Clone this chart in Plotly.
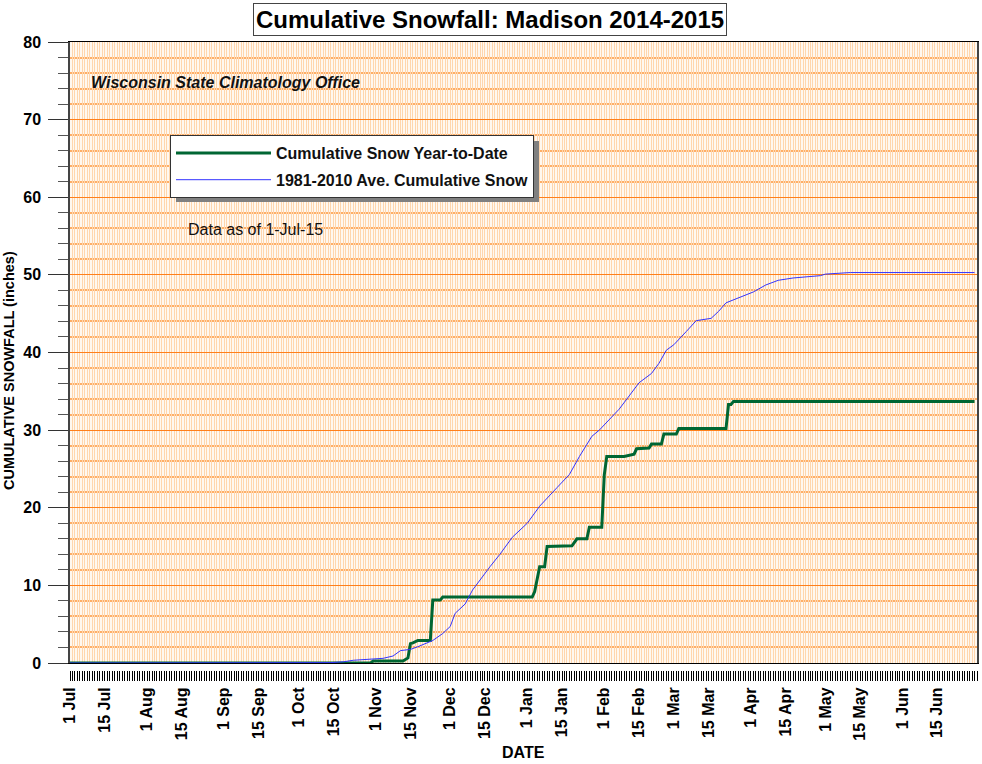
import plotly.graph_objects as go

# ---- data ----
ytd_dates = ["2014-07-01", "2014-10-30", "2014-10-31", "2014-11-12", "2014-11-14", "2014-11-15",
             "2014-11-16", "2014-11-18", "2014-11-23", "2014-11-24", "2014-11-27", "2014-11-28",
             "2015-01-03", "2015-01-04", "2015-01-06", "2015-01-08", "2015-01-09", "2015-01-19",
             "2015-01-21", "2015-01-25", "2015-01-26", "2015-01-31", "2015-02-01", "2015-02-02",
             "2015-02-09", "2015-02-13", "2015-02-14", "2015-02-19", "2015-02-20", "2015-02-24",
             "2015-02-25", "2015-03-02", "2015-03-03", "2015-03-22", "2015-03-23", "2015-03-24",
             "2015-03-25", "2015-06-30"]
ytd_snow = [0.0, 0.0, 0.25, 0.25, 0.65, 2.5,
            2.6, 2.9, 2.9, 8.1, 8.1, 8.5,
            8.5, 9.2, 12.4, 12.4, 15.0, 15.1,
            16.0, 16.0, 17.5, 17.5, 24.2, 26.6,
            26.6, 26.9, 27.6, 27.7, 28.2, 28.2,
            29.5, 29.5, 30.2, 30.2, 33.3, 33.3,
            33.7, 33.7]

avg_dates = ["2014-07-01", "2014-10-08", "2014-10-14", "2014-10-19", "2014-10-23", "2014-11-04",
             "2014-11-08", "2014-11-11", "2014-11-15", "2014-11-18", "2014-11-24", "2014-11-28",
             "2014-12-01", "2014-12-03", "2014-12-07", "2014-12-10", "2014-12-13", "2014-12-17",
             "2014-12-21", "2014-12-26", "2015-01-01", "2015-01-06", "2015-01-13", "2015-01-18",
             "2015-01-22", "2015-01-27", "2015-01-30", "2015-02-03", "2015-02-07", "2015-02-11",
             "2015-02-15", "2015-02-20", "2015-02-23", "2015-02-26", "2015-03-01", "2015-03-06",
             "2015-03-10", "2015-03-16", "2015-03-19", "2015-03-22", "2015-03-27", "2015-04-02",
             "2015-04-07", "2015-04-12", "2015-04-18", "2015-04-29", "2015-05-01", "2015-05-11",
             "2015-06-30"]
avg_snow = [0.0, 0.0, 0.05, 0.15, 0.35, 0.6,
            0.9, 1.6, 1.75, 2.1, 2.9, 3.8,
            4.7, 6.4, 7.6, 9.4, 10.7, 12.4,
            14.0, 16.2, 18.0, 20.2, 22.6, 24.3,
            26.6, 29.2, 30.0, 31.3, 32.7, 34.4,
            36.1, 37.3, 38.6, 40.3, 41.0, 42.7,
            44.1, 44.4, 45.3, 46.4, 47.0, 47.8,
            48.7, 49.3, 49.6, 49.9, 50.1, 50.3,
            50.3]

tick_dates = ["2014-07-01", "2014-07-15", "2014-08-01", "2014-08-15", "2014-09-01", "2014-09-15",
              "2014-10-01", "2014-10-15", "2014-11-01", "2014-11-15", "2014-12-01", "2014-12-15",
              "2015-01-01", "2015-01-15", "2015-02-01", "2015-02-15", "2015-03-01", "2015-03-15",
              "2015-04-01", "2015-04-15", "2015-05-01", "2015-05-15", "2015-06-01", "2015-06-15"]
tick_labels = ["1 Jul", "15 Jul", "1 Aug", "15 Aug", "1 Sep", "15 Sep",
               "1 Oct", "15 Oct", "1 Nov", "15 Nov", "1 Dec", "15 Dec",
               "1 Jan", "15 Jan", "1 Feb", "15 Feb", "1 Mar", "15 Mar",
               "1 Apr", "15 Apr", "1 May", "15 May", "1 Jun", "15 Jun"]

x_range = ["2014-07-01", "2015-07-01"]
FONT = "Arial, Liberation Sans, sans-serif"
DAY = 86400000

# pixel helpers for paper placement (plot area: x 70..977, y 42..670)
L, R, T, B = 70, 5, 42, 94
W, H = 982, 764
PW, PH = W - L - R, H - T - B
def px(x): return (x - L) / PW
def py(y): return (H - B - y) / PH

fig = go.Figure()
fig.add_trace(go.Scatter(x=ytd_dates, y=ytd_snow, mode="lines", name="Cumulative Snow Year-to-Date",
                         line=dict(color="#006633", width=3), legendgroup="a"))
fig.add_trace(go.Scatter(x=avg_dates, y=avg_snow, mode="lines", name="1981-2010 Ave. Cumulative Snow",
                         line=dict(color="#3333FF", width=1), legendgroup="b"))
# carrier trace for the separate tick strip axis
fig.add_trace(go.Scatter(x=x_range, y=[None, None], xaxis="x2", mode="lines",
                         showlegend=False, hoverinfo="skip", line=dict(width=0)))

fig.update_layout(
    width=W, height=H,
    margin=dict(l=L, r=R, t=T, b=B, autoexpand=False),
    paper_bgcolor="white",
    plot_bgcolor="#FFF8F0",
    font=dict(family=FONT, size=16, color="black"),
    showlegend=True,
    legend=dict(x=px(170), y=py(135), xanchor="left", yanchor="top",
                bgcolor="white", bordercolor="#333333", borderwidth=1,
                itemwidth=95, tracegroupgap=3,
                font=dict(family=FONT, size=16, color="#111111", weight="bold")),
    xaxis=dict(type="date", range=x_range, showticklabels=False, ticks="", automargin=False,
               tick0="2014-07-01", dtick=DAY, showgrid=True, gridcolor="#FFD6AD", gridwidth=1,
               showline=True, linecolor="black", linewidth=1, mirror=True, zeroline=False),
    xaxis2=dict(type="date", range=x_range, overlaying="x", anchor="free", position=0,
                automargin=False,
                showgrid=False, showline=False, zeroline=False,
                tickmode="array", tickvals=tick_dates, ticktext=tick_labels,
                ticks="outside", ticklen=10, tickwidth=1, tickcolor="black",
                tickangle=-90,
                tickfont=dict(family=FONT, size=16, color="black", weight="bold"),
                minor=dict(dtick=DAY, tick0="2014-07-01", ticks="outside", ticklen=10,
                           tickwidth=1, tickcolor="black", showgrid=False)),
    yaxis=dict(range=[0, 80], domain=[(670 - 663) / PH, 1], dtick=10, tick0=0, automargin=False,
               showgrid=True, gridcolor="#FF7F1A", gridwidth=1,
               ticks="outside", ticklen=20, tickwidth=1, tickcolor="#333333",
               ticklabelstandoff=4,
               tickfont=dict(family=FONT, size=16, color="black", weight="bold"),
               showline=True, linecolor="#444444", linewidth=1.5, mirror=True, zeroline=False,
               minor=dict(dtick=2, ticks="outside", ticklen=10, tickwidth=1, tickcolor="#555555",
                          showgrid=True, gridcolor="#FFAE66", gridwidth=1.5)),
)

# legend drop shadow
fig.add_shape(type="rect", xref="paper", yref="paper",
              x0=px(176), x1=px(539), y0=py(202), y1=py(141),
              fillcolor="#808080", line=dict(width=0), layer="above")

fig.add_annotation(text="<b>Cumulative Snowfall: Madison 2014-2015</b>", xref="paper", yref="paper",
                   x=px(489.5), y=py(20), xanchor="center", yanchor="middle", showarrow=False,
                   font=dict(family=FONT, size=24, color="black"),
                   bgcolor="white", bordercolor="#444444", borderwidth=1, borderpad=2)
fig.add_annotation(text="<b><i>Wisconsin State Climatology Office</i></b>", xref="paper", yref="paper",
                   x=px(89), y=py(82), xanchor="left", yanchor="middle", showarrow=False,
                   font=dict(family=FONT, size=16, color="#111111"))
fig.add_annotation(text="Data as of 1-Jul-15", xref="paper", yref="paper",
                   x=px(186), y=py(229), xanchor="left", yanchor="middle", showarrow=False,
                   font=dict(family=FONT, size=16, color="#111111"))
fig.add_annotation(text="<b>DATE</b>", xref="paper", yref="paper",
                   x=px(523.5), y=py(752), xanchor="center", yanchor="middle", showarrow=False,
                   font=dict(family=FONT, size=16, color="black"))
fig.add_annotation(text="<b>CUMULATIVE SNOWFALL (inches)</b>", xref="paper", yref="paper",
                   x=px(9), y=py(371), xanchor="center", yanchor="middle", showarrow=False,
                   textangle=-90, font=dict(family=FONT, size=14.5, color="black"))

fig.write_html("out.html", config={"displayModeBar": False},
               post_script="document.body.style.margin='0';document.body.style.overflow='hidden';")
